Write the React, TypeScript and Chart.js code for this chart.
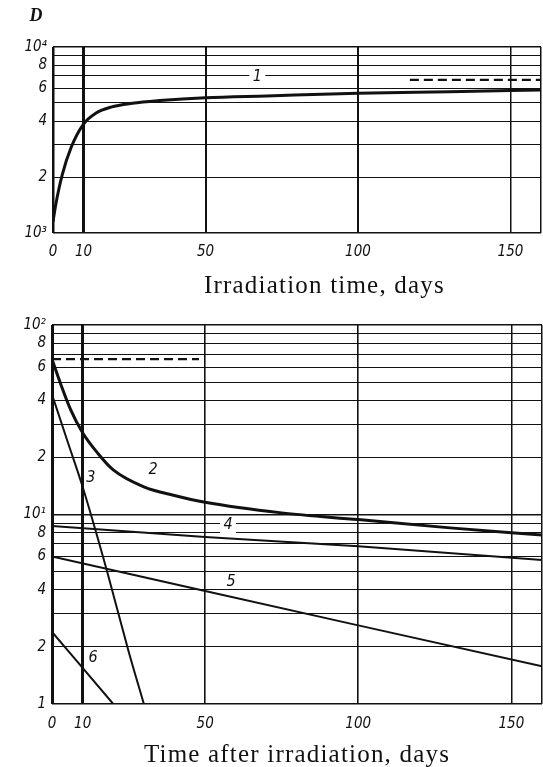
import React, { useEffect, useRef } from 'react';
import { Chart, registerables } from 'chart.js';

Chart.register(...registerables);

// ---- axis ticks ----
const X_TICKS = [0, 10, 50, 100, 150, 160];
const X_TICK_LABELS = ['0', '10', '50', '100', '150', ''];

const TOP_Y_TICKS = [1000, 2000, 3000, 4000, 5000, 6000, 7000, 8000, 9000, 10000];
const TOP_Y_LABELS = ['10³', '2', '', '4', '', '6', '', '8', '', '10⁴'];

const BOTTOM_Y_TICKS = [1, 2, 3, 4, 5, 6, 7, 8, 9, 10, 20, 30, 40, 50, 60, 70, 80, 90, 100];
const BOTTOM_Y_LABELS = ['1', '2', '', '4', '', '6', '', '8', '', '10¹', '2', '', '4', '', '6', '', '8', '', '10²'];

// ---- top panel (irradiation time) ----
const curve1Days = [0, 1, 3, 6, 10, 14, 19, 26, 35, 50, 70, 100, 130, 160];
const curve1Values = [1150, 1450, 2050, 2900, 3850, 4400, 4750, 4980, 5150, 5340, 5460, 5640, 5750, 5870];
const dashTopDays = [117, 160];
const dashTopValues = [6650, 6650];

// ---- bottom panel (time after irradiation) ----
const curve2Days = [0, 3, 6, 10, 15, 20, 30, 40, 50, 75, 100, 130, 160];
const curve2Values = [66, 48, 36, 27, 21, 17.2, 14, 12.6, 11.6, 10.2, 9.4, 8.5, 7.8];
const curve3Days = [0, 5, 10, 18, 25, 30];
const curve3Values = [43, 24.5, 14, 5, 1.9, 1];
const curve4Days = [0, 50, 100, 160];
const curve4Values = [8.7, 7.6, 6.8, 5.75];
const curve5Days = [0, 50, 100, 160];
const curve5Values = [6, 3.95, 2.6, 1.58];
const curve6Days = [0, 10, 20];
const curve6Values = [2.4, 1.55, 1];
const dashBottomDays = [0, 48];
const dashBottomValues = [66, 66];

// curve number labels: text, day, value, white backing
const topCurveLabels: [string, number, number, boolean][] = [['1', 67, 6900, true]];
const bottomCurveLabels: [string, number, number, boolean][] = [
  ['2', 33, 17.2, false],
  ['3', 12.7, 15.6, false],
  ['4', 57.5, 8.8, true],
  ['5', 58.5, 4.4, false],
  ['6', 13.4, 1.75, false],
];

const TOP_TITLE = 'Irradiation time, days';
const BOTTOM_TITLE = 'Time after irradiation, days';
const Y_TITLE = 'D';

const INK = '#111';
const TICK_FAMILY = "'Liberation Sans Narrow', 'DejaVu Sans Condensed', 'Liberation Sans', sans-serif";
const SERIF = "'Liberation Serif', 'DejaVu Serif', serif";

const pts = (xs: number[], ys: number[]) => xs.map((x, i) => ({ x, y: ys[i] }));

function lineDs(xs: number[], ys: number[], width: number, smooth: boolean, dash?: number[]) {
  return {
    data: pts(xs, ys),
    borderColor: INK,
    borderWidth: width,
    pointRadius: 0,
    fill: false,
    cubicInterpolationMode: smooth ? 'monotone' : 'default',
    borderDash: dash || [],
    borderCapStyle: 'butt',
  };
}

function textPlugin(opts: {
  title: string;
  titleCenterDay: number;
  titleBaseline: number;
  labels: [string, number, number, boolean][];
  yTitle?: string;
}) {
  return {
    id: 'texts',
    afterDraw(chart: any) {
      const ctx = chart.ctx;
      const xs = chart.scales.x;
      const ys = chart.scales.y;
      ctx.save();
      ctx.fillStyle = INK;
      ctx.font = `25px ${SERIF}`;
      try { (ctx as any).letterSpacing = '1.2px'; } catch (e) {}
      ctx.textAlign = 'center';
      ctx.textBaseline = 'alphabetic';
      ctx.fillText(opts.title, xs.getPixelForValue(opts.titleCenterDay), opts.titleBaseline);
      try { (ctx as any).letterSpacing = '0px'; } catch (e) {}
      if (opts.yTitle) {
        ctx.font = `italic bold 18px ${SERIF}`;
        ctx.textAlign = 'center';
        ctx.textBaseline = 'middle';
        ctx.fillText(opts.yTitle, 36, 16);
      }
      ctx.font = `italic 16px ${TICK_FAMILY}`;
      ctx.textAlign = 'center';
      ctx.textBaseline = 'middle';
      for (const [t, d, v, bg] of opts.labels) {
        const px = xs.getPixelForValue(d);
        const py = ys.getPixelForValue(v);
        if (bg) {
          ctx.fillStyle = '#fff';
          ctx.fillRect(px - 8, py - 8, 16, 16);
        }
        ctx.fillStyle = INK;
        ctx.fillText(t, px, py);
      }
      ctx.restore();
    },
  };
}

function makeOptions(cfg: {
  yMin: number;
  yMax: number;
  yTicks: number[];
  yLabels: string[];
  padding: any;
  yWidth: number;
  xHeight: number;
  xPad: number;
  xWidths: Record<number, number>;
}) {
  const tickFont = { family: TICK_FAMILY, size: 15, style: 'italic' as const };
  return {
    responsive: false,
    animation: false as const,
    layout: { padding: cfg.padding },
    plugins: { legend: { display: false }, tooltip: { enabled: false } },
    scales: {
      x: {
        type: 'linear' as const,
        min: 0,
        max: 160,
        afterBuildTicks: (s: any) => { s.ticks = X_TICKS.map((v) => ({ value: v })); },
        afterFit: (s: any) => {
          s.height = cfg.xHeight;
          s.paddingLeft = 0;
          s.paddingRight = 0;
        },
        border: { display: false },
        grid: {
          drawTicks: false,
          color: INK,
          lineWidth: (c: any) => cfg.xWidths[c.tick?.value] ?? 1.5,
        },
        ticks: {
          autoSkip: false,
          maxRotation: 0,
          padding: cfg.xPad,
          color: INK,
          font: tickFont,
          callback: (v: any) => X_TICK_LABELS[X_TICKS.indexOf(Number(v))] ?? '',
        },
      },
      y: {
        type: 'logarithmic' as const,
        min: cfg.yMin,
        max: cfg.yMax,
        afterBuildTicks: (s: any) => { s.ticks = cfg.yTicks.map((v) => ({ value: v })); },
        afterFit: (s: any) => {
          s.width = cfg.yWidth;
          s.paddingTop = 0;
          s.paddingBottom = 0;
        },
        border: { display: false },
        grid: {
          drawTicks: false,
          color: INK,
          lineWidth: (c: any) => {
            const v = c.tick?.value;
            const l = Math.log10(v);
            return Math.abs(l - Math.round(l)) < 1e-6 ? 1.6 : 1;
          },
        },
        ticks: {
          autoSkip: false,
          padding: 6,
          color: INK,
          font: tickFont,
          callback: (v: any) => {
            const i = cfg.yTicks.findIndex((t) => Math.abs(t - Number(v)) < 1e-6 * t);
            return i >= 0 ? cfg.yLabels[i] : '';
          },
        },
      },
    },
  };
}

export default function App() {
  const topRef = useRef<HTMLCanvasElement>(null);
  const botRef = useRef<HTMLCanvasElement>(null);

  useEffect(() => {
    const top = new Chart(topRef.current as HTMLCanvasElement, {
      type: 'line',
      data: {
        datasets: [
          lineDs(curve1Days, curve1Values, 3, true),
          lineDs(dashTopDays, dashTopValues, 2.2, false, [9, 5]),
        ] as any,
      },
      options: makeOptions({
        yMin: 1000,
        yMax: 10000,
        yTicks: TOP_Y_TICKS,
        yLabels: TOP_Y_LABELS,
        padding: { top: 47, right: 2, left: 0, bottom: 0 },
        yWidth: 53,
        xHeight: 72,
        xPad: 10,
        xWidths: { 0: 2.5, 10: 3, 50: 2, 100: 2, 150: 1.5, 160: 1.5 },
      }) as any,
      plugins: [
        textPlugin({ title: TOP_TITLE, titleCenterDay: 89, titleBaseline: 293, labels: topCurveLabels, yTitle: Y_TITLE }),
      ],
    });

    const bot = new Chart(botRef.current as HTMLCanvasElement, {
      type: 'line',
      data: {
        datasets: [
          lineDs(curve2Days, curve2Values, 3, true),
          lineDs(curve3Days, curve3Values, 2, true),
          lineDs(curve4Days, curve4Values, 2, false),
          lineDs(curve5Days, curve5Values, 2, false),
          lineDs(curve6Days, curve6Values, 2, false),
          lineDs(dashBottomDays, dashBottomValues, 2.2, false, [9, 5]),
        ] as any,
      },
      options: makeOptions({
        yMin: 1,
        yMax: 100,
        yTicks: BOTTOM_Y_TICKS,
        yLabels: BOTTOM_Y_LABELS,
        padding: { top: 20, right: 1, left: 0, bottom: 0 },
        yWidth: 52,
        xHeight: 63,
        xPad: 11,
        xWidths: { 0: 3, 10: 3, 50: 1.6, 100: 1.6, 150: 1.5, 160: 1.5 },
      }) as any,
      plugins: [
        textPlugin({ title: BOTTOM_TITLE, titleCenterDay: 80, titleBaseline: 457, labels: bottomCurveLabels }),
      ],
    });

    return () => {
      top.destroy();
      bot.destroy();
    };
  }, []);

  return (
    <div style={{ position: 'absolute', left: 0, top: 0, width: 543, height: 767, background: '#fff' }}>
      <canvas ref={topRef} width={543} height={305} style={{ position: 'absolute', left: 0, top: 0 }} />
      <canvas ref={botRef} width={543} height={462} style={{ position: 'absolute', left: 0, top: 305 }} />
    </div>
  );
}
